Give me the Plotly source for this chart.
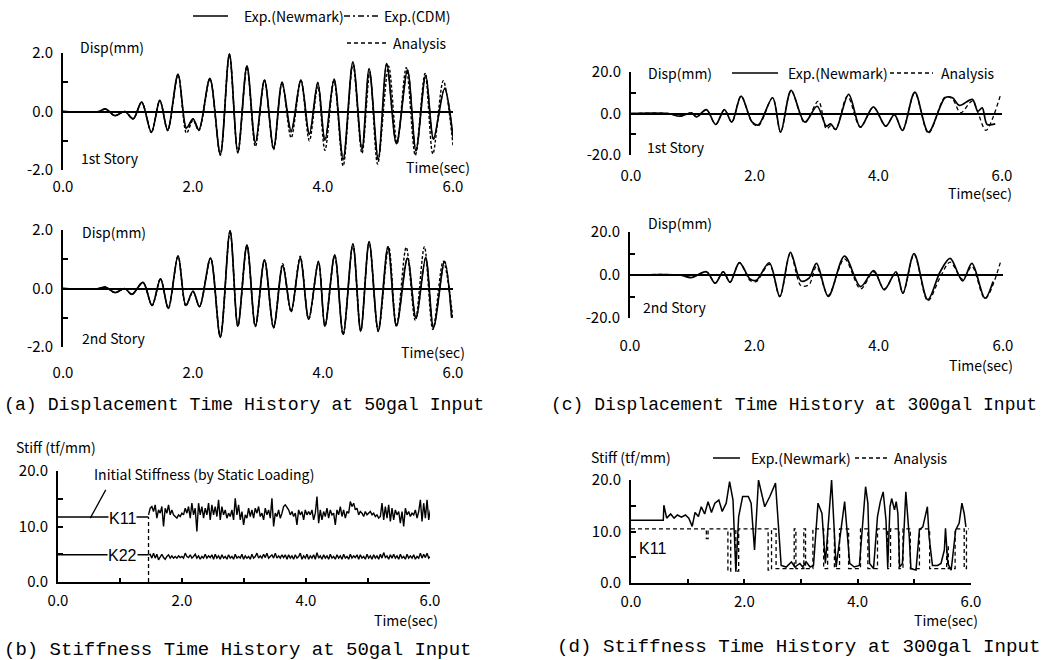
import numpy as np
import plotly.graph_objects as go

W, H = 1047, 660
GOTH = "Noto Sans CJK KR, Liberation Sans, sans-serif"
SANS = "Liberation Sans, Arial, sans-serif"
MONO = "Liberation Mono, Courier New, monospace"

# ---------------- data ----------------
# (a) 50 gal input, 1st story displacement (mm)
a1_time = [0.0, 0.55, 0.65, 0.80, 0.95, 1.08, 1.21, 1.36, 1.49, 1.61, 1.77, 1.90, 2.00, 2.09, 2.26, 2.42,
           2.56, 2.69, 2.83, 2.96, 3.10, 3.24, 3.37, 3.51, 3.66, 3.79, 3.92, 4.03, 4.17, 4.31, 4.46, 4.60,
           4.71, 4.85, 4.98, 5.13, 5.30, 5.43, 5.58, 5.70, 5.87, 6.00]
a1_newmark = [0, 0, 0.09, -0.14, 0.0, -0.25, 0.32, -0.71, 0.38, -0.63, 1.28, -0.56, -0.25, -0.63, 1.13, -1.46,
              1.97, -1.39, 1.56, -1.06, 1.07, -1.26, 1.00, -0.66, 1.08, -0.78, 1.00, -0.99, 1.11, -1.63, 1.70, -1.29,
              1.47, -1.63, 1.64, -1.10, 1.41, -1.33, 1.24, -0.92, 0.78, -0.87]
a1_cdm = [0, 0, 0.09, -0.14, 0.0, -0.25, 0.32, -0.70, 0.38, -0.65, 1.27, -0.60, -0.25, -0.63, 1.12, -1.46,
          1.96, -1.39, 1.55, -1.08, 1.07, -1.27, 1.00, -0.70, 1.08, -0.80, 0.98, -1.00, 1.10, -1.65, 1.68, -1.30,
          1.45, -1.65, 1.62, -1.10, 1.42, -1.35, 1.25, -0.95, 0.80, -0.90]
a1_analysis_time = [0.0, 0.55, 0.65, 0.80, 0.95, 1.08, 1.21, 1.36, 1.49, 1.61, 1.77, 1.90, 2.00, 2.09, 2.26, 2.42,
                    2.56, 2.69, 2.83, 2.96, 3.10, 3.24, 3.37, 3.51, 3.66, 3.79, 3.92, 4.03, 4.17, 4.31, 4.46, 4.60,
                    4.72, 4.84, 5.01, 5.14, 5.28, 5.42, 5.57, 5.69, 5.85, 6.00]
a1_analysis = [0, 0, 0.08, -0.14, 0.0, -0.25, 0.32, -0.72, 0.38, -0.65, 1.25, -0.74, -0.30, -0.65, 1.12, -1.50,
               1.95, -1.42, 1.52, -1.20, 1.05, -1.30, 0.98, -0.90, 1.05, -1.00, 0.85, -1.33, 1.05, -1.86, 1.60, -1.43,
               1.32, -1.80, 1.55, -1.10, 1.50, -1.50, 1.30, -1.45, 1.05, -1.15]

# (a) 50 gal input, 2nd story displacement (mm)
a2_time = [0.0, 0.55, 0.65, 0.80, 0.95, 1.06, 1.23, 1.37, 1.50, 1.62, 1.77, 1.89, 2.00, 2.10, 2.27, 2.42,
           2.57, 2.69, 2.83, 2.96, 3.10, 3.24, 3.38, 3.51, 3.65, 3.78, 3.93, 4.03, 4.18, 4.31, 4.46, 4.58,
           4.71, 4.85, 5.00, 5.13, 5.30, 5.43, 5.58, 5.70, 5.87, 5.98]
a2_newmark = [0, 0, 0.05, -0.14, 0.0, -0.20, 0.21, -0.58, 0.33, -0.68, 1.12, -0.58, -0.09, -0.62, 1.04, -1.67,
              1.98, -1.28, 1.49, -1.28, 0.98, -1.33, 0.78, -0.77, 1.04, -1.05, 0.93, -1.28, 1.15, -1.56, 1.53, -1.45,
              1.60, -1.45, 1.43, -1.28, 1.04, -1.00, 1.04, -1.33, 0.93, -1.00]
a2_cdm = [0, 0, 0.05, -0.14, 0.0, -0.20, 0.21, -0.58, 0.33, -0.68, 1.11, -0.58, -0.10, -0.62, 1.04, -1.66,
          1.97, -1.28, 1.48, -1.28, 0.98, -1.33, 0.80, -0.78, 1.05, -1.05, 0.93, -1.28, 1.14, -1.56, 1.52, -1.45,
          1.59, -1.45, 1.43, -1.28, 1.06, -1.02, 1.06, -1.34, 0.93, -1.00]
a2_analysis_time = [0.0, 0.55, 0.65, 0.80, 0.95, 1.06, 1.23, 1.37, 1.50, 1.62, 1.77, 1.89, 2.00, 2.10, 2.27, 2.42,
                    2.57, 2.69, 2.83, 2.96, 3.10, 3.24, 3.38, 3.51, 3.65, 3.78, 3.93, 4.03, 4.18, 4.31, 4.46, 4.58,
                    4.71, 4.85, 5.01, 5.13, 5.28, 5.42, 5.56, 5.69, 5.85, 6.00]
a2_analysis = [0, 0, 0.05, -0.14, 0.0, -0.20, 0.21, -0.58, 0.33, -0.68, 1.10, -0.60, -0.10, -0.62, 1.04, -1.65,
               1.95, -1.30, 1.45, -1.30, 0.95, -1.35, 0.85, -0.80, 1.10, -1.05, 0.90, -1.30, 1.12, -1.58, 1.50, -1.47,
               1.58, -1.47, 1.43, -1.30, 1.41, -1.10, 1.43, -1.40, 0.93, -1.05]

# (c) 300 gal input, 1st story displacement (mm)
c1_time = [0, 0.6, 0.79, 0.98, 1.06, 1.22, 1.37, 1.51, 1.63, 1.78, 1.96, 2.06, 2.29, 2.42, 2.59, 2.81, 3.01, 3.16,
           3.23, 3.31, 3.52, 3.71, 3.92, 4.12, 4.26, 4.39, 4.59, 4.81, 5.08, 5.20, 5.31, 5.52, 5.61, 5.68, 5.76, 5.89]
c1_newmark = [0, 0, -1.3, 0.3, -1.6, 1.9, -5.3, 1.9, -4.2, 8.4, -4.2, -5.5, 7.6, -9.0, 11.1, -4.2, 3.5, -6.1,
              -5.0, -7.7, 9.2, -6.6, 3.2, -6.1, -0.5, -8.2, 10.3, -9.0, 7.6, 7.6, 3.9, 6.8, 1.1, 2.7, -5.3, -5.0]
c1_analysis_time = [0, 0.6, 0.79, 0.98, 1.06, 1.22, 1.37, 1.51, 1.63, 1.78, 1.96, 2.06, 2.29, 2.42, 2.59, 2.81, 3.03,
                    3.16, 3.23, 3.31, 3.50, 3.71, 3.92, 4.12, 4.26, 4.39, 4.59, 4.81, 5.08, 5.20, 5.33, 5.52, 5.61,
                    5.74, 5.97]
c1_analysis = [0, 0, -1.3, 0.3, -1.6, 1.9, -5.3, 1.9, -4.2, 8.4, -4.5, -6.0, 7.6, -9.0, 11.0, -4.5, 6.0,
               -7.4, -6.0, -7.7, 8.4, -6.6, 3.0, -6.1, -0.5, -8.2, 10.0, -9.5, 8.0, 7.0, 0.3, 6.0, 0.5, -8.1, 8.4]

# (c) 300 gal input, 2nd story displacement (mm)
c2_time = [0, 0.8, 0.99, 1.23, 1.37, 1.50, 1.61, 1.76, 1.93, 2.03, 2.24, 2.41, 2.58, 2.75, 2.88, 3.00, 3.19, 3.45,
           3.71, 3.92, 4.09, 4.28, 4.39, 4.57, 4.79, 4.99, 5.15, 5.35, 5.50, 5.71, 5.84]
c2_newmark = [0, 0, -1.2, 1.5, -3.8, 1.5, -3.4, 5.8, -1.8, -2.5, 5.7, -10.0, 10.5, -2.8, -1.5, 5.4, -10.0, 8.8,
              -5.4, 2.0, -6.9, 1.5, -8.5, 10.0, -11.5, 1.5, 7.7, -2.8, 5.4, -10.8, -3.0]
c2_analysis_time = [0, 0.8, 0.99, 1.23, 1.37, 1.50, 1.61, 1.76, 1.93, 2.03, 2.24, 2.41, 2.58, 2.75, 2.88, 3.00, 3.19,
                    3.45, 3.71, 3.92, 4.09, 4.28, 4.39, 4.57, 4.79, 4.99, 5.15, 5.35, 5.50, 5.71, 5.97]
c2_analysis = [0, 0, -1.2, 1.5, -3.8, 1.5, -3.4, 5.8, -2.5, -3.1, 5.0, -10.0, 10.0, -5.0, -4.5, 4.0, -9.5, 7.5,
               -6.5, 1.5, -6.5, 1.0, -8.5, 9.5, -12.0, -1.0, 6.0, -2.0, 4.0, -11.0, 7.0]

# (b) 50 gal input, stiffness (tf/mm), sampled from t = 1.46 s every 0.0269 s
b_start_time = 1.46
b_sample_step = 0.0269
b_k11 = [12.1, 13.3, 13.6, 12.7, 13.9, 11.5, 13.0, 12.4, 13.6, 10.0,
         13.3, 12.4, 13.9, 12.1, 13.0, 12.1, 11.8, 11.5, 12.1, 11.8,
         12.4, 12.1, 13.3, 12.4, 13.6, 11.5, 14.2, 12.1, 13.3, 9.1,
         14.2, 12.1, 13.6, 11.5, 13.3, 12.1, 14.2, 11.2, 13.9, 12.1,
         13.6, 11.8, 14.8, 11.2, 13.6, 12.1, 13.0, 11.5, 12.4, 11.8,
         13.0, 11.2, 15.1, 12.1, 13.9, 11.2, 12.7, 10.3, 12.1, 11.5,
         13.3, 11.8, 13.0, 11.5, 13.3, 12.4, 13.6, 11.8, 12.4, 11.2,
         13.3, 12.1, 13.0, 11.5, 15.1, 10.0, 12.4, 11.8, 13.0, 11.5,
         12.4,
         13.6, 13.9, 13.3, 13.0, 12.1, 12.7, 11.8, 12.4, 10.3, 13.0,
         12.1, 12.7, 11.2, 13.0, 12.1, 12.7, 12.1, 13.0, 11.2, 12.4,
         15.4, 10.6, 13.0, 11.2, 12.7, 11.8, 13.3, 11.5, 13.0, 12.1,
         12.4, 10.3, 13.0, 12.1, 13.6, 11.8, 13.0, 11.5, 12.7, 12.4,
         14.5, 13.6, 14.2, 13.0, 13.3, 12.1, 12.7, 12.4, 11.8, 12.7,
         12.1, 12.4, 12.7, 12.1, 12.4, 11.8, 12.1, 11.5, 11.8, 14.2,
         11.2, 13.6, 11.5, 13.9, 10.9, 13.3, 11.2, 13.0, 12.1, 12.7,
         10.6, 12.7, 10.0, 13.3, 12.1, 12.7, 11.8, 12.4, 12.1, 13.0,
         11.5, 12.7, 14.8, 10.9, 14.2, 11.5, 14.8, 11.2, 13.0]
b_k22 = [4.9, 5.0, 4.3, 5.2, 4.3, 5.0, 4.0, 4.6, 5.0, 4.4,
         4.1, 4.6, 4.9, 4.3, 4.7, 4.3, 4.6, 4.3, 4.7, 4.4,
         4.6, 4.3, 5.2, 4.6, 4.4, 4.9, 4.3, 4.6, 5.0, 4.3,
         4.7, 4.1, 4.6, 4.3, 5.0, 4.3, 4.7, 4.4, 4.9, 4.1,
         5.0, 4.3, 4.7, 4.1, 4.9, 4.3, 4.6, 4.1, 4.9, 4.3,
         4.6, 4.1, 5.0, 4.3, 4.6, 4.3, 5.0, 4.1, 4.7, 4.3,
         4.6, 4.1, 5.0, 4.3, 4.6, 5.2, 4.3, 4.7, 4.3, 5.0,
         4.4, 5.2, 4.3, 4.6, 4.9, 4.3, 5.2, 4.3, 4.7, 4.3,
         4.9,
         4.4, 4.9, 4.1, 4.9, 4.3, 4.7, 4.1, 4.9, 4.3, 4.6,
         5.2, 4.1, 4.7, 4.3, 5.0, 4.1, 4.7, 4.3, 4.9, 4.1,
         5.3, 4.3, 4.7, 4.1, 4.9, 4.3, 4.7, 4.1, 5.0, 4.3,
         4.6, 4.1, 4.9, 4.3, 4.7, 4.1, 5.0, 4.3, 4.6, 4.1,
         5.0, 4.3, 4.7, 4.4, 4.9, 4.1, 4.9, 4.3, 4.6, 4.1,
         5.0, 4.3, 4.7, 4.1, 4.9, 4.3, 4.7, 4.1, 5.0, 4.3,
         5.3, 4.4, 4.7, 4.1, 4.9, 4.3, 5.0, 4.3, 4.7, 4.1,
         5.0, 4.3, 4.6, 4.1, 5.0, 4.3, 4.7, 4.3, 4.9, 4.1,
         4.6, 4.3, 5.2, 4.3, 5.0, 4.4, 5.2, 4.3, 4.6]
b_initial_k11 = 11.7   # initial stiffness by static loading
b_initial_k22 = 4.9

# (d) 300 gal input, K11 stiffness (tf/mm)
d_time = [0, 0.57, 0.58, 0.63, 0.70, 0.76, 0.82, 0.89, 0.96, 1.02, 1.08, 1.13, 1.19, 1.24, 1.30, 1.36, 1.42,
          1.48, 1.55, 1.61, 1.68, 1.74, 1.80, 1.85, 1.90, 1.97, 2.07, 2.12, 2.18, 2.25, 2.36, 2.45, 2.55, 2.65,
          2.74, 2.83, 2.89, 2.98, 3.03, 3.09, 3.16, 3.22, 3.30, 3.37, 3.43, 3.54, 3.62, 3.77, 3.86, 3.94, 4.03,
          4.14, 4.18, 4.21, 4.28, 4.35, 4.40, 4.45, 4.50, 4.53, 4.57, 4.60, 4.65, 4.68, 4.71, 4.74, 4.79, 4.85,
          4.91, 4.94, 5.03, 5.09, 5.15, 5.23, 5.26, 5.32, 5.41, 5.47, 5.53, 5.55, 5.59, 5.65, 5.73, 5.79, 5.84,
          5.88, 5.91]
d_newmark = [12.2, 12.2, 15.1, 12.6, 13.4, 12.6, 13.2, 12.8, 13.2, 12.6, 11.0, 13.7, 12.9, 14.8, 13.4, 15.8, 13.7,
             15.5, 16.1, 13.9, 15.5, 19.7, 16.1, 2.2, 12.9, 16.8, 16.8, 15.5, 6.4, 20.0, 14.8, 16.8, 19.4, 3.4,
             3.1, 4.1, 3.1, 3.8, 3.1, 4.1, 3.1, 3.4, 15.5, 13.5, 3.8, 20.0, 3.1, 15.8, 3.8, 3.1, 3.4,
             18.7, 15.5, 3.8, 2.8, 12.9, 15.8, 17.7, 12.2, 3.1, 14.8, 16.4, 14.2, 15.8, 13.5, 3.1, 3.8, 17.7,
             9.0, 2.8, 2.5, 10.3, 10.9, 14.8, 9.0, 3.4, 3.4, 3.8, 6.4, 10.6, 3.8, 2.5, 10.3, 11.6, 15.5,
             13.5, 10.9]
d_analysis_time = [0, 1.33, 1.36, 1.71, 1.76, 1.85, 1.90, 2.42, 2.48, 2.56, 2.88, 2.91, 3.05, 3.08, 3.21, 3.40,
                   3.47, 3.59, 3.68, 3.84, 4.05, 4.18, 4.35, 4.53, 4.58, 4.73, 4.80, 4.93, 5.09, 5.27, 5.57, 5.60,
                   5.72, 5.88, 5.92, 5.96]
d_analysis = [10.5, 8.6, 10.5, 2.3, 10.5, 2.3, 10.5, 2.5, 10.5, 2.8, 10.5, 2.8, 10.5, 2.8, 10.5, 2.8,
              10.5, 2.8, 10.5, 2.8, 10.5, 2.8, 10.5, 2.8, 10.5, 2.8, 10.5, 2.8, 10.5, 2.8, 7.0, 2.8,
              10.5, 2.8, 10.5, 10.5]

disp_ticks_a = ["-2.0", "", "0.0", "", "2.0"]
disp_ticks_c = ["-20.0", "", "0.0", "", "20.0"]
stiff_ticks = ["0.0", "", "10.0", "", "20.0"]
time_ticks = ["0.0", "2.0", "4.0", "6.0"]
time_ticks_minor = ["0.0", "", "2.0", "", "4.0", "", "6.0"]

# ---------------- figure ----------------
fig = go.Figure()
BLACK = "black"


def line(x, y, ax, dash="solid", width=1.7, shape="spline"):
    fig.add_trace(go.Scatter(x=x, y=y, mode="lines", xaxis="x" + ax, yaxis="y" + ax,
                             line=dict(color=BLACK, width=width, dash=dash, shape=shape,
                                       smoothing=0.9 if shape == "spline" else None),
                             hoverinfo="skip", showlegend=False))


DOT = "3px,2px"
DASH = "4px,3px"
DASHDOT = "6px,3px,2px,3px"

# (a)
line(a1_time, a1_cdm, "1", DASHDOT, 1.3)
line(a1_analysis_time, a1_analysis, "1", DOT, 1.4)
line(a1_time, a1_newmark, "1")
line(a2_time, a2_cdm, "2", DASHDOT, 1.3)
line(a2_analysis_time, a2_analysis, "2", DOT, 1.4)
line(a2_time, a2_newmark, "2")
# (c)
line(c1_analysis_time, c1_analysis, "3", DASH, 1.3)
line(c1_time, c1_newmark, "3")
line(c2_analysis_time, c2_analysis, "4", DASH, 1.3)
line(c2_time, c2_newmark, "4")
# (b)
b_time = list(b_start_time + b_sample_step * np.arange(len(b_k11)))
line(b_time, b_k11, "5", width=1.4, shape="linear")
line(b_time, b_k22, "5", width=1.4, shape="linear")
line([0, b_start_time], [b_initial_k11, b_initial_k11], "5", width=1.4, shape="linear")
line([0, b_start_time], [b_initial_k22, b_initial_k22], "5", width=1.4, shape="linear")
line([b_start_time, b_start_time], [0, b_initial_k11], "5", DASH, 1.3, "linear")
# (d)
line(d_analysis_time, d_analysis, "6", DASH, 1.3, "hv")
line(d_time, d_newmark, "6", width=1.5, shape="linear")

TICKFONT = dict(family=GOTH, size=15, color=BLACK)


def yax(top, bot, rng, tv, tt, anchor, zero):
    return dict(domain=[1 - bot / H, 1 - top / H], range=rng, tickvals=tv, ticktext=tt,
                ticks="inside", ticklen=5, tickwidth=1.5, tickcolor=BLACK,
                showline=True, linecolor=BLACK, linewidth=2, showgrid=False,
                zeroline=zero, zerolinecolor=BLACK, zerolinewidth=2, automargin=False,
                anchor=anchor, tickfont=TICKFONT, fixedrange=True, ticklabelstandoff=5)


def xax_free(left, right, anchor, standoff):
    return dict(domain=[left / W, right / W], range=[0, 6], tickvals=[0, 2, 4, 6], ticktext=time_ticks,
                showline=False, ticks="", showgrid=False, zeroline=False, anchor=anchor, automargin=False,
                tickfont=TICKFONT, fixedrange=True, ticklabelstandoff=standoff)


def xax_line(left, right, anchor, standoff):
    return dict(domain=[left / W, right / W], range=[0, 6], tickvals=[0, 1, 2, 3, 4, 5, 6],
                ticktext=time_ticks_minor, showline=True, linecolor=BLACK, linewidth=2,
                ticks="inside", ticklen=4, tickwidth=1.5, tickcolor=BLACK, automargin=False,
                showgrid=False, zeroline=False, anchor=anchor,
                tickfont=TICKFONT, fixedrange=True, ticklabelstandoff=standoff)


fig.update_layout(
    template="none",
    width=W, height=H, margin=dict(l=0, r=0, t=0, b=0, pad=0, autoexpand=False),
    paper_bgcolor="white", plot_bgcolor="white", showlegend=False,
    xaxis1=xax_free(63, 453, "y1", 6),
    yaxis1=yax(53, 170, [-2, 2], [-2, -1, 0, 1, 2], disp_ticks_a, "x1", True),
    xaxis2=xax_free(63, 453, "y2", 15),
    yaxis2=yax(230, 347, [-2, 2], [-2, -1, 0, 1, 2], disp_ticks_a, "x2", True),
    xaxis3=xax_free(631, 1002, "y3", 10),
    yaxis3=yax(72, 155, [-20, 20], [-20, -10, 0, 10, 20], disp_ticks_c, "x3", True),
    xaxis4=xax_free(630, 1003, "y4", 17),
    yaxis4=yax(232, 318, [-20, 20], [-20, -10, 0, 10, 20], disp_ticks_c, "x4", True),
    xaxis5=xax_line(58, 430, "y5", 4),
    yaxis5=yax(471, 582, [0, 20], [0, 5, 10, 15, 20], stiff_ticks, "x5", False),
    xaxis6=xax_line(631, 971, "y6", 4),
    yaxis6=yax(480, 583, [0, 20], [0, 5, 10, 15, 20], stiff_ticks, "x6", False),
)

anns = []


def txt(x, y, s, size=14, family=GOTH, xanchor="left", bg=None):
    d = dict(xref="paper", yref="paper", x=x / W, y=1 - y / H, text=s, showarrow=False,
             xanchor=xanchor, yanchor="middle", font=dict(family=family, size=size, color=BLACK),
             borderpad=0)
    if bg:
        d["bgcolor"] = bg
    anns.append(d)


# panel (a)
txt(79, 47, "Disp(mm)")
txt(80, 158, "1st Story")
txt(405, 167, "Time(sec)")
txt(81, 232, "Disp(mm)")
txt(81, 338, "2nd Story")
txt(400, 352, "Time(sec)")
txt(243, 16, "Exp.(Newmark)")
txt(383, 16, "Exp.(CDM)")
txt(392, 43, "Analysis")
# panel (c)
txt(647, 73, "Disp(mm)")
txt(787, 73, "Exp.(Newmark)")
txt(940, 73, "Analysis")
txt(646, 147, "1st Story")
txt(947, 193, "Time(sec)")
txt(647, 223, "Disp(mm)")
txt(642, 307, "2nd Story")
txt(948, 365, "Time(sec)")
# panel (b)
txt(15, 447, "Stiff (tf/mm)")
txt(93, 474, "Initial Stiffness (by Static Loading)")
txt(122, 518, "K11", 16, SANS, "center", "white")
txt(122, 555, "K22", 16, SANS, "center", "white")
txt(373, 620, "Time(sec)")
# panel (d)
txt(590, 457, "Stiff (tf/mm)")
txt(750, 458, "Exp.(Newmark)")
txt(893, 458, "Analysis")
txt(638, 548, "K11", 16, SANS)
txt(913, 620, "Time(sec)")
# captions
txt(3, 405, "(a) Displacement Time History at 50gal Input", 18.2, MONO)
txt(3, 650, "(b) Stiffness Time History at 50gal Input", 19, MONO)
txt(550, 405, "(c) Displacement Time History at 300gal Input", 18, MONO)
txt(556, 647, "(d) Stiffness Time History at 300gal Input", 19.2, MONO)

fig.update_layout(annotations=anns)

shapes = []


def seg(x0, y0, x1, y1, dash="solid", width=1.5):
    shapes.append(dict(type="line", xref="paper", yref="paper", x0=x0 / W, y0=1 - y0 / H,
                       x1=x1 / W, y1=1 - y1 / H, line=dict(color=BLACK, width=width, dash=dash)))


seg(193, 16, 228, 16)
seg(344, 16, 380, 16, DASHDOT, 1.3)
seg(347, 43, 387, 43, DASH, 1.3)
seg(732, 73, 778, 73)
seg(890, 73, 933, 73, DASH, 1.3)
seg(713, 458, 740, 458)
seg(855, 458, 887, 458, DASH, 1.3)
# leader from the "Initial Stiffness" note to the K11 initial line
shapes.append(dict(type="line", xref="x5", yref="y5", x0=0.52, y0=11.5, x1=0.77, y1=16.6,
                   line=dict(color=BLACK, width=1.3)))
fig.update_layout(shapes=shapes)

fig.write_html("out.html", config={"displayModeBar": False},
               post_script="document.body.style.margin='0px';")
